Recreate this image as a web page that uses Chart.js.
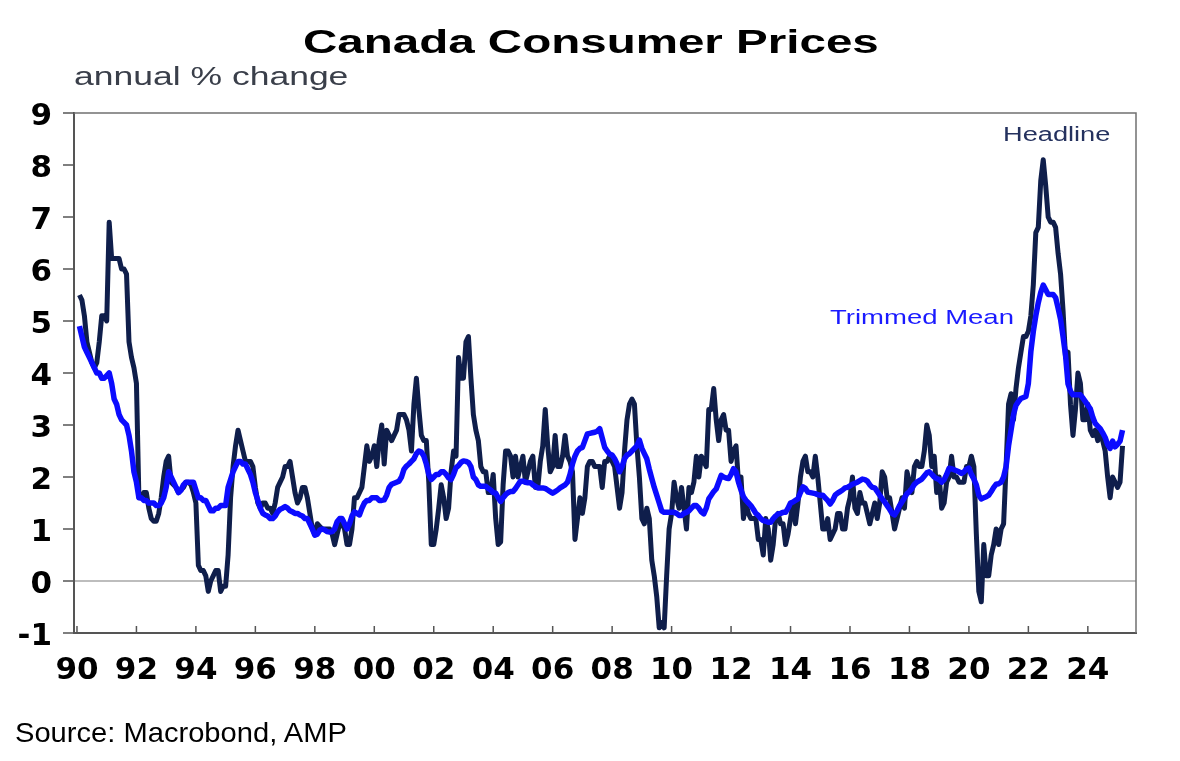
<!DOCTYPE html>
<html>
<head>
<meta charset="utf-8">
<script src="https://cdn.jsdelivr.net/npm/chart.js@4.4.1/dist/chart.umd.min.js"></script>
<style>
  body { margin: 0; background: #fff; }
  #wrap { position: relative; width: 1180px; height: 761px; overflow: hidden; }
  canvas { position: absolute; left: 0; top: 0; }
  .txt { position: absolute; white-space: nowrap; font-family: "Liberation Sans", Arial, sans-serif; line-height: 1; transform-origin: 0 0; }
  #title { left: 303px; top: 25px; font-size: 33px; font-weight: bold; color: #000; transform: scaleX(1.44); }
  #subtitle { left: 74px; top: 64px; font-size: 25px; color: #3a3f4a; transform: scaleX(1.42); }
  #source { left: 15px; top: 719px; font-size: 28px; color: #000; transform: scaleX(1.04); }
  #lblHead { left: 1003px; top: 124px; font-size: 20px; color: #24315e; transform: scaleX(1.36); }
  #lblTrim { left: 830px; top: 306px; font-size: 21px; color: #1a1aff; transform: scaleX(1.31); }
</style>
</head>
<body>
<div id="wrap">
  <canvas id="myChart" width="1180" height="761"></canvas>
  <div class="txt" id="title">Canada Consumer Prices</div>
  <div class="txt" id="subtitle">annual % change</div>
  <div class="txt" id="source">Source: Macrobond, AMP</div>
  <div class="txt" id="lblHead">Headline</div>
  <div class="txt" id="lblTrim">Trimmed Mean</div>
</div>
<script>
// monthly data, Jan 1990 - Feb 2025
const startYear = 1990;

const headline = [
  5.5, 5.4, 5.1, 4.6, 4.4, 4.2, 4.1, 4.2, 4.6, 5.1, 5.1, 5.0,   // 1990
  6.9, 6.2, 6.2, 6.2, 6.2, 6.0, 6.0, 5.9, 4.6, 4.3, 4.1, 3.8,   // 1991
  1.6, 1.6, 1.7, 1.7, 1.4, 1.2, 1.15, 1.15, 1.3, 1.6, 2.0, 2.3, // 1992
  2.4, 1.9, 1.85, 1.8, 1.7, 1.75, 1.8, 1.9, 1.9, 1.85, 1.7, 1.5, // 1993
  0.3, 0.2, 0.2, 0.1, -0.2, 0.0, 0.1, 0.2, 0.2, -0.2, -0.1, -0.1, // 1994
  0.5, 1.6, 2.2, 2.6, 2.9, 2.7, 2.5, 2.3, 2.3, 2.3, 2.2, 1.8,   // 1995
  1.5, 1.4, 1.5, 1.5, 1.4, 1.4, 1.3, 1.5, 1.8, 1.9, 2.0, 2.2,   // 1996
  2.2, 2.3, 2.0, 1.7, 1.5, 1.6, 1.8, 1.8, 1.6, 1.3, 1.0, 0.9,   // 1997
  1.1, 1.05, 1.0, 1.0, 1.0, 1.0, 0.9, 0.7, 0.9, 1.1, 1.1, 1.0,  // 1998
  0.7, 0.7, 1.0, 1.6, 1.6, 1.7, 1.8, 2.2, 2.6, 2.3, 2.4, 2.6,   // 1999
  2.2, 2.7, 3.0, 2.25, 2.9, 2.8, 2.7, 2.8, 2.9, 3.2, 3.2, 3.2,  // 2000
  3.1, 2.9, 2.5, 3.4, 3.9, 3.3, 2.8, 2.7, 2.7, 1.9, 0.7, 0.7,   // 2001
  1.0, 1.4, 1.85, 1.6, 1.2, 1.4, 2.1, 2.5, 2.4, 4.3, 3.9, 3.9,  // 2002
  4.6, 4.7, 3.9, 3.2, 2.9, 2.7, 2.2, 2.1, 2.1, 1.7, 1.7, 2.05,  // 2003
  1.2, 0.7, 0.75, 1.85, 2.5, 2.5, 2.4, 2.0, 2.4, 2.0, 2.2, 2.4, // 2004
  1.9, 2.1, 2.3, 2.4, 1.8, 1.8, 2.3, 2.6, 3.3, 2.6, 2.1, 2.2,   // 2005
  2.8, 2.2, 2.2, 2.4, 2.8, 2.4, 2.3, 2.1, 0.8, 1.2, 1.6, 1.3,   // 2006
  1.6, 2.2, 2.3, 2.3, 2.2, 2.2, 2.2, 1.8, 2.3, 2.3, 2.4, 2.3,   // 2007
  2.2, 1.8, 1.4, 1.7, 2.5, 3.1, 3.4, 3.5, 3.4, 2.6, 2.0, 1.2,   // 2008
  1.1, 1.4, 1.2, 0.4, 0.1, -0.3, -0.9, -0.8, -0.9, 0.1, 1.0, 1.3, // 2009
  1.9, 1.6, 1.4, 1.8, 1.4, 1.0, 1.8, 1.7, 1.9, 2.4, 2.0, 2.4,   // 2010
  2.3, 2.2, 3.3, 3.3, 3.7, 3.1, 2.7, 3.1, 3.2, 2.9, 2.9, 2.3,   // 2011
  2.5, 2.6, 1.9, 2.0, 1.2, 1.5, 1.3, 1.2, 1.2, 1.2, 0.8, 0.8,   // 2012
  0.5, 1.2, 1.0, 0.4, 0.7, 1.2, 1.3, 1.1, 1.1, 0.7, 0.9, 1.2,   // 2013
  1.5, 1.1, 1.5, 2.0, 2.3, 2.4, 2.1, 2.1, 2.0, 2.4, 2.0, 1.5,   // 2014
  1.0, 1.0, 1.2, 0.8, 0.9, 1.0, 1.3, 1.3, 1.0, 1.0, 1.4, 1.6,   // 2015
  2.0, 1.4, 1.3, 1.7, 1.5, 1.5, 1.3, 1.1, 1.3, 1.5, 1.2, 1.5,   // 2016
  2.1, 2.0, 1.6, 1.6, 1.3, 1.0, 1.2, 1.4, 1.6, 1.4, 2.1, 1.9,   // 2017
  1.7, 2.2, 2.3, 2.2, 2.2, 2.5, 3.0, 2.8, 2.2, 2.4, 1.7, 2.0,   // 2018
  1.4, 1.5, 1.9, 2.0, 2.4, 2.0, 2.0, 1.9, 1.9, 1.9, 2.2, 2.2,   // 2019
  2.4, 2.2, 0.9, -0.2, -0.4, 0.7, 0.1, 0.1, 0.5, 0.7, 1.0, 0.7, // 2020
  1.0, 1.1, 2.2, 3.4, 3.6, 3.1, 3.7, 4.1, 4.4, 4.7, 4.7, 4.8,   // 2021
  5.1, 5.7, 6.7, 6.8, 7.7, 8.1, 7.6, 7.0, 6.9, 6.9, 6.8, 6.3,   // 2022
  5.9, 5.2, 4.3, 4.4, 3.4, 2.8, 3.3, 4.0, 3.8, 3.1, 3.1, 3.4,   // 2023
  2.9, 2.8, 2.9, 2.7, 2.9, 2.7, 2.5, 2.0, 1.6, 2.0, 1.9, 1.8,   // 2024
  1.9, 2.6                                                      // 2025
];

const trimmedMean = [
  4.9, 4.7, 4.5, 4.4, 4.3, 4.2, 4.1, 4.0, 4.0, 3.9, 3.9, 3.95,  // 1990
  4.0, 3.8, 3.5, 3.4, 3.2, 3.1, 3.05, 3.0, 2.8, 2.5, 2.1, 1.9,  // 1991
  1.6, 1.6, 1.55, 1.55, 1.5, 1.5, 1.5, 1.45, 1.45, 1.5, 1.6, 1.8, // 1992
  2.1, 2.0, 1.9, 1.8, 1.7, 1.75, 1.85, 1.9, 1.9, 1.9, 1.9, 1.75, // 1993
  1.6, 1.6, 1.55, 1.55, 1.45, 1.35, 1.35, 1.4, 1.4, 1.45, 1.45, 1.45, // 1994
  1.8, 1.95, 2.1, 2.2, 2.3, 2.3, 2.25, 2.25, 2.15, 2.05, 1.9, 1.7, // 1995
  1.55, 1.4, 1.3, 1.27, 1.25, 1.2, 1.2, 1.25, 1.33, 1.38, 1.4, 1.43, // 1996
  1.4, 1.35, 1.33, 1.3, 1.3, 1.27, 1.25, 1.2, 1.2, 1.1, 1.0, 0.88, // 1997
  0.9, 0.98, 1.0, 0.98, 0.95, 0.94, 0.95, 1.0, 1.14, 1.2, 1.2, 1.1, // 1998
  1.0, 1.1, 1.25, 1.33, 1.3, 1.27, 1.4, 1.5, 1.55, 1.55, 1.6, 1.6, // 1999
  1.6, 1.55, 1.55, 1.56, 1.65, 1.8, 1.86, 1.88, 1.9, 1.92, 2.0, 2.15, // 2000
  2.21, 2.25, 2.3, 2.35, 2.45, 2.5, 2.48, 2.4, 2.25, 2.05, 1.95, 2.0, // 2001
  2.05, 2.05, 2.1, 2.1, 2.05, 1.98, 1.95, 2.05, 2.18, 2.22, 2.28, 2.31, // 2002
  2.3, 2.28, 2.2, 2.0, 1.95, 1.85, 1.82, 1.82, 1.82, 1.78, 1.75, 1.7, // 2003
  1.69, 1.6, 1.53, 1.6, 1.66, 1.7, 1.72, 1.72, 1.78, 1.85, 1.92, 1.92, // 2004
  1.9, 1.89, 1.89, 1.85, 1.82, 1.79, 1.79, 1.79, 1.78, 1.75, 1.72, 1.69, // 2005
  1.72, 1.75, 1.79, 1.82, 1.85, 1.9, 2.05, 2.25, 2.4, 2.5, 2.55, 2.57, // 2006
  2.7, 2.83, 2.84, 2.85, 2.86, 2.88, 2.93, 2.75, 2.57, 2.5, 2.44, 2.42, // 2007
  2.35, 2.25, 2.1, 2.2, 2.35, 2.42, 2.45, 2.5, 2.55, 2.6, 2.71, 2.55, // 2008
  2.45, 2.35, 2.15, 1.97, 1.8, 1.65, 1.5, 1.35, 1.32, 1.32, 1.32, 1.32, // 2009
  1.32, 1.3, 1.26, 1.26, 1.3, 1.32, 1.35, 1.4, 1.45, 1.45, 1.4, 1.33, // 2010
  1.29, 1.4, 1.58, 1.65, 1.72, 1.77, 1.9, 2.03, 2.0, 1.98, 1.97, 2.05, // 2011
  2.16, 2.1, 1.9, 1.75, 1.62, 1.55, 1.5, 1.45, 1.38, 1.3, 1.26, 1.2, // 2012
  1.16, 1.15, 1.13, 1.13, 1.2, 1.25, 1.29, 1.3, 1.32, 1.32, 1.4, 1.5, // 2013
  1.52, 1.55, 1.58, 1.7, 1.81, 1.78, 1.71, 1.7, 1.69, 1.68, 1.66, 1.65, // 2014
  1.65, 1.6, 1.55, 1.48, 1.55, 1.65, 1.69, 1.72, 1.75, 1.79, 1.8, 1.83, // 2015
  1.86, 1.88, 1.9, 1.93, 1.96, 1.95, 1.92, 1.85, 1.8, 1.79, 1.72, 1.65, // 2016
  1.58, 1.52, 1.45, 1.38, 1.3, 1.27, 1.35, 1.45, 1.52, 1.6, 1.68, 1.72, // 2017
  1.78, 1.86, 1.9, 1.93, 1.96, 2.02, 2.08, 2.1, 2.05, 2.0, 1.97, 1.95, // 2018
  1.9, 1.95, 2.05, 2.17, 2.16, 2.14, 2.12, 2.1, 2.07, 2.1, 2.15, 2.17, // 2019
  2.05, 1.96, 1.85, 1.65, 1.58, 1.6, 1.62, 1.65, 1.72, 1.8, 1.86, 1.87, // 2020
  1.9, 2.0, 2.2, 2.6, 2.9, 3.2, 3.38, 3.45, 3.51, 3.53, 3.55, 3.8, // 2021
  4.41, 4.8, 5.1, 5.35, 5.55, 5.69, 5.6, 5.51, 5.51, 5.51, 5.45, 5.25, // 2022
  5.03, 4.7, 4.34, 3.79, 3.65, 3.58, 3.58, 3.58, 3.58, 3.52, 3.45, 3.38, // 2023
  3.31, 3.15, 3.03, 2.98, 2.93, 2.85, 2.76, 2.62, 2.55, 2.69, 2.58, 2.63, // 2024
  2.69, 2.9                                                      // 2025
];

const xTicks = [1990, 1992, 1994, 1996, 1998, 2000, 2002, 2004, 2006, 2008, 2010, 2012, 2014, 2016, 2018, 2020, 2022, 2024];
const xTickLabels = ["90", "92", "94", "96", "98", "00", "02", "04", "06", "08", "10", "12", "14", "16", "18", "20", "22", "24"];
const yTicks = [-1, 0, 1, 2, 3, 4, 5, 6, 7, 8, 9];

// month i plotted at end of that month
const toPoints = arr => arr.map((v, i) => ({ x: startYear + (i + 1) / 12, y: v }));

const tickFont = { family: "DejaVu Sans", weight: "bold", size: 31 };

const framePlugin = {
  id: "frame",
  afterDraw: chart => {
    const ctx = chart.ctx;
    const a = chart.chartArea;
    const xs = chart.scales.x;
    ctx.save();
    ctx.strokeStyle = "#707070";
    ctx.lineWidth = 1.5;
    ctx.beginPath();
    ctx.moveTo(a.left, a.top);
    ctx.lineTo(a.right, a.top);
    ctx.lineTo(a.right, a.bottom);
    ctx.stroke();
    // small ticks pointing up into the plot
    ctx.strokeStyle = "#555";
    xs.ticks.forEach(t => {
      const px = xs.getPixelForValue(t.value);
      ctx.beginPath();
      ctx.moveTo(px, a.bottom);
      ctx.lineTo(px, a.bottom - 7);
      ctx.stroke();
    });
    ctx.restore();
  }
};

const myChart = new Chart(document.getElementById("myChart").getContext("2d"), {
  type: "line",
  plugins: [framePlugin],
  data: {
    datasets: [
      {
        label: "Headline",
        data: toPoints(headline),
        borderColor: "#0f1e4b",
        borderWidth: 5,
        borderJoinStyle: "round",
        pointRadius: 0,
        tension: 0,
        order: 2
      },
      {
        label: "Trimmed Mean",
        data: toPoints(trimmedMean),
        borderColor: "#0b0bff",
        borderWidth: 5.5,
        borderJoinStyle: "round",
        pointRadius: 0,
        tension: 0,
        order: 1
      }
    ]
  },
  options: {
    responsive: false,
    animation: false,
    layout: { padding: { left: 0, right: 44, top: 113, bottom: 0 } },
    plugins: {
      legend: { display: false },
      tooltip: { enabled: false }
    },
    scales: {
      x: {
        type: "linear",
        min: 1989.9,
        max: 2025.62,
        afterBuildTicks: s => { s.ticks = xTicks.map(v => ({ value: v })); },
        afterFit: s => { s.height = 128; },
        grid: { display: true, drawOnChartArea: false, drawTicks: false },
        border: { display: true, color: "#555", width: 2 },
        ticks: {
          padding: 19,
          color: "#000",
          font: tickFont,
          maxRotation: 0,
          autoSkip: false,
          callback: (v, i) => xTickLabels[i]
        }
      },
      y: {
        min: -1,
        max: 9,
        afterBuildTicks: s => { s.ticks = yTicks.map(v => ({ value: v })); },
        afterFit: s => { s.width = 74; },
        grid: {
          color: c => (c.tick && c.tick.value === 0 ? "#bdbdbd" : "rgba(0,0,0,0)"),
          lineWidth: 2,
          tickColor: "#555",
          tickLength: 11,
          tickWidth: 1.5
        },
        border: { display: true, color: "#555", width: 2 },
        ticks: {
          padding: 11,
          labelOffset: 4,
          color: "#000",
          font: tickFont,
          callback: v => String(v)
        }
      }
    }
  }
});
</script>
</body>
</html>
